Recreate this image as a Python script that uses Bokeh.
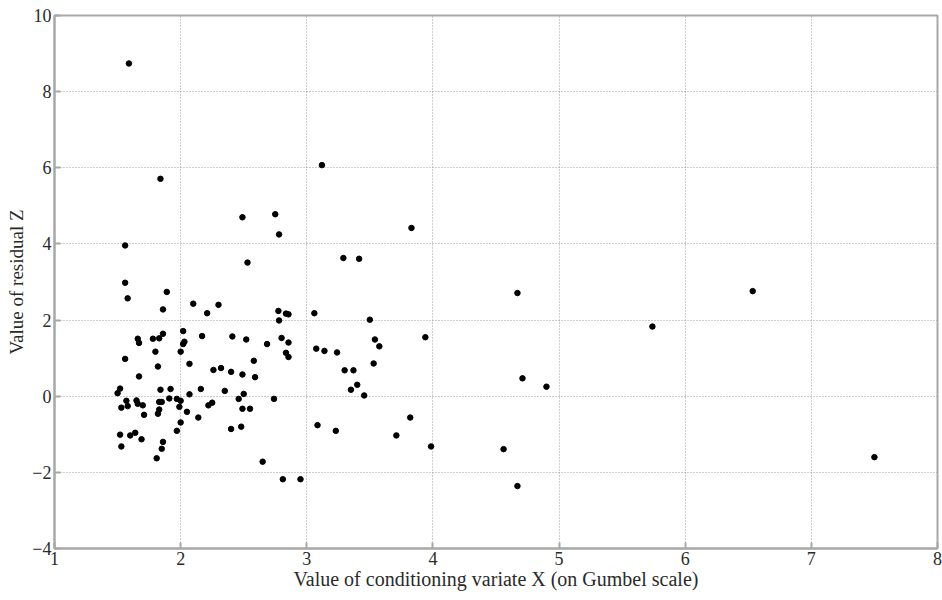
from bokeh.plotting import figure
from bokeh.models import Range1d, FixedTicker
from bokeh.embed import file_html
from bokeh.resources import INLINE

# Conditioning variate X (Gumbel scale) and residual Z for each exceedance
x_gumbel = [
    1.56, 1.56, 1.58, 1.89, 1.86, 2.10, 2.21, 2.30, 1.66, 1.67,
    1.78, 1.83, 1.86, 1.80, 1.82, 1.56, 1.67, 2.02, 2.03, 2.02,
    2.00, 2.17, 2.07, 2.26, 2.32, 1.50, 1.52, 1.53, 1.57, 1.58,
    1.65, 1.66, 1.70, 1.71, 1.84, 1.92, 1.83, 1.85, 1.83, 1.82,
    1.91, 1.97, 2.00, 1.99, 2.05, 2.07, 2.16, 2.22, 2.25, 2.14,
    2.00, 1.97, 1.52, 1.53, 1.60, 1.64, 1.69, 1.86, 1.85, 1.81,
    2.49, 2.75, 2.78, 2.53, 3.29, 3.415, 2.775, 2.78, 2.835, 2.855,
    3.06, 3.50, 2.41, 2.52, 2.685, 2.80, 2.855, 2.835, 2.855, 2.58,
    3.075, 3.14, 3.24, 2.40, 2.49, 2.59, 3.30, 3.37, 3.35, 3.40,
    3.455, 2.35, 2.50, 2.46, 2.74, 2.49, 2.55, 2.40, 2.48, 3.085,
    3.23, 2.65,
    3.83, 3.94, 3.54, 3.575, 3.53, 3.82, 3.71, 3.985, 4.56,
    4.67, 6.535, 5.74, 4.71, 4.90, 7.50, 4.67,
    1.59, 1.84, 3.12, 2.81, 2.95,
]
z_residual = [
    3.96, 2.98, 2.57, 2.74, 2.28, 2.43, 2.18, 2.40, 1.51, 1.40,
    1.51, 1.52, 1.64, 1.17, 0.78, 0.98, 0.52, 1.71, 1.43, 1.37,
    1.17, 1.58, 0.85, 0.69, 0.74, 0.08, 0.20, -0.30, -0.12, -0.26,
    -0.11, -0.20, -0.24, -0.49, 0.17, 0.19, -0.15, -0.15, -0.35, -0.46,
    -0.06, -0.07, -0.12, -0.28, -0.41, 0.05, 0.19, -0.24, -0.17, -0.56,
    -0.69, -0.91, -1.01, -1.32, -1.03, -0.96, -1.13, -1.20, -1.38, -1.63,
    4.70, 4.78, 4.25, 3.51, 3.63, 3.61, 2.24, 1.99, 2.17, 2.15,
    2.18, 2.01, 1.57, 1.49, 1.37, 1.53, 1.41, 1.14, 1.03, 0.93,
    1.25, 1.19, 1.15, 0.64, 0.57, 0.50, 0.68, 0.68, 0.17, 0.30,
    0.02, 0.14, 0.06, -0.07, -0.07, -0.33, -0.33, -0.86, -0.80, -0.76,
    -0.91, -1.72,
    4.42, 1.55, 1.49, 1.31, 0.86, -0.56, -1.03, -1.32, -1.39,
    2.71, 2.76, 1.83, 0.47, 0.25, -1.60, -2.36,
    8.74, 5.71, 6.07, -2.18, -2.18,
]

x_ticks = [1, 2, 3, 4, 5, 6, 7, 8]
y_ticks = [-4, -2, 0, 2, 4, 6, 8, 10]

FONT = "Liberation Serif"
FRAME = "#a8a8a8"
INK = "#2a2a2a"

p = figure(
    width=942, height=600,
    output_backend="svg", toolbar_location=None,
    x_range=Range1d(1, 8), y_range=Range1d(-4, 10),
    min_border_left=54, min_border_right=5,
    min_border_top=15, min_border_bottom=52,
    background_fill_color="white", border_fill_color="white",
)

p.scatter(x_gumbel, z_residual, size=5.5, color="black", marker="circle")

for ax in (p.xaxis[0], p.yaxis[0]):
    ax.axis_line_color = FRAME
    ax.axis_line_width = 2
    ax.major_tick_in = 6
    ax.major_tick_out = 0
    ax.major_tick_line_color = FRAME
    ax.major_tick_line_width = 2
    ax.minor_tick_line_color = None
    ax.major_label_text_font = FONT
    ax.major_label_text_font_size = "18px"
    ax.major_label_text_color = INK
    ax.axis_label_text_font = FONT
    ax.axis_label_text_font_style = "normal"
    ax.axis_label_text_color = INK
    ax.major_label_standoff = 3

p.xaxis.axis_label_text_font_size = "20px"
p.yaxis.axis_label_text_font_size = "19px"
p.xaxis.axis_label_standoff = 0
p.yaxis.axis_label_standoff = 2

p.xaxis.ticker = FixedTicker(ticks=x_ticks)
p.yaxis.ticker = FixedTicker(ticks=y_ticks)
p.xaxis.axis_label = "Value of conditioning variate X (on Gumbel scale)"
p.yaxis.axis_label = "Value of residual Z"

p.outline_line_color = FRAME
p.outline_line_width = 2

for g in (p.xgrid[0], p.ygrid[0]):
    g.grid_line_color = "#9a9a9a"
    g.grid_line_dash = "1 2"
    g.grid_line_width = 1

open("out.html", "w").write(file_html(p, INLINE))
